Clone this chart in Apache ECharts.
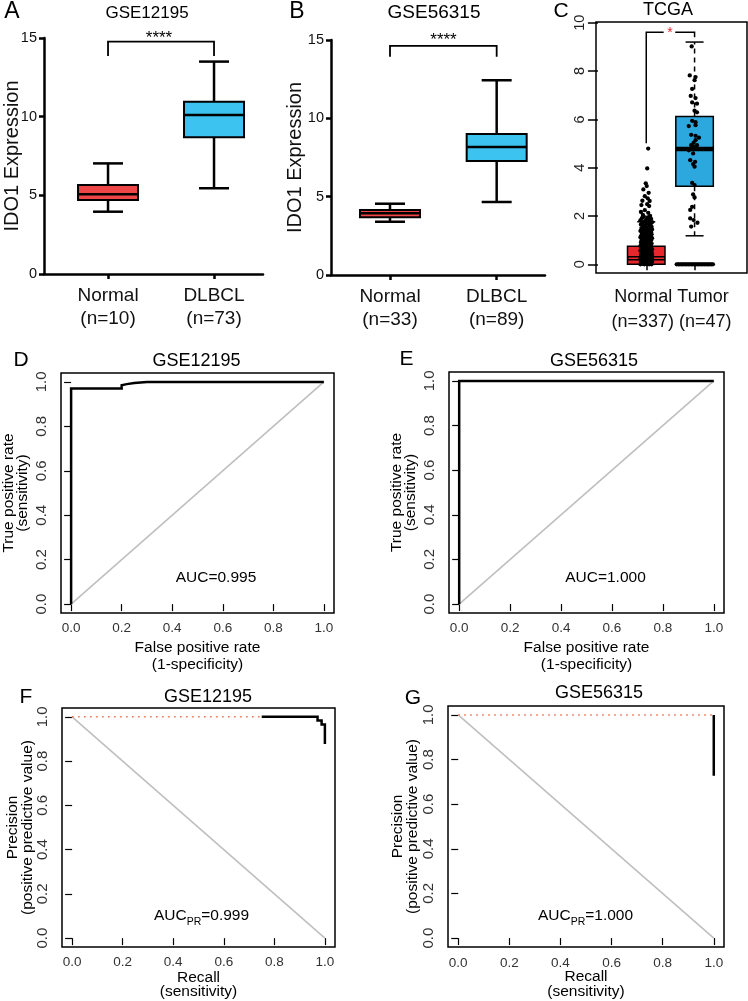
<!DOCTYPE html>
<html>
<head>
<meta charset="utf-8">
<script src="https://cdn.jsdelivr.net/npm/echarts@6/dist/echarts.min.js"></script>
<style>
html,body{margin:0;padding:0;background:#fff;}
#chart{width:748px;height:1001px;}
</style>
</head>
<body>
<div id="chart"></div>
<script>
// ---------------- DATA ----------------
// Panel A (GSE12195) box summaries: [lowWhisker, Q1, median, Q3, highWhisker]
const catsA = ['Normal', 'DLBCL'];
const countsA = [10, 73];
const boxA_normal = [3.96, 4.70, 5.07, 5.66, 7.03];
const boxA_dlbcl = [5.45, 8.69, 10.10, 10.95, 13.50];
const sigA = [13.86, 14.77]; // bracket drop level, bracket top
// Panel B (GSE56315)
const catsB = ['Normal', 'DLBCL'];
const countsB = [33, 89];
const boxB_normal = [3.40, 3.68, 3.94, 4.15, 4.55];
const boxB_dlbcl = [4.66, 7.27, 8.17, 9.00, 12.43];
const sigB = [13.93, 14.63];
const yTicksAB = [0, 5, 10, 15];
// Panel C (TCGA)
const catsC = ['Normal', 'Tumor'];
const countsC = [337, 47];
const boxC_normal = [0.00, 0.00, 0.25, 0.75, 1.76];
const boxC_tumor = [1.18, 3.23, 4.77, 6.12, 9.20];
const yTicksC = [0, 2, 4, 6, 8, 10];
// jittered points: [x offset from category, expression]
const ptsC_normal = [
 [0.04,4.79],[0.02,3.97],[-0.01,3.35],[0.01,3.24],[-0.06,3.10],[0.05,2.96],[-0.03,2.82],[0.03,2.73],[-0.08,2.63],[0.07,2.62],
 [0.02,2.49],[-0.10,2.45],[0.06,2.41],[-0.03,2.24],[-0.11,2.17],[0.04,2.13],[-0.07,2.04],[0.08,2.00],
 [-0.05,1.97],[0.03,1.94],[-0.09,1.91],[0.10,1.88],[0.00,1.85],[-0.12,1.82],[0.06,1.80],[-0.04,1.77],[0.12,1.74],[-0.08,1.72],
 [0.02,1.70],[0.09,1.67],[-0.11,1.65],[-0.02,1.62],[0.07,1.60],[-0.06,1.58],[0.11,1.55],[0.01,1.53],[-0.10,1.50],[0.05,1.48],
 [-0.03,1.46],[0.12,1.44],[-0.07,1.42],[0.03,1.40],[-0.12,1.38],[0.08,1.36],[-0.01,1.34],[0.10,1.32],[-0.09,1.30],[0.04,1.28],
 [-0.05,1.26],[0.11,1.24],[0.00,1.22],[-0.10,1.20],[0.06,1.18],[-0.04,1.16],[0.09,1.14],[-0.12,1.12],[0.02,1.10],[0.12,1.08],
 [-0.07,1.06],[0.05,1.04],[-0.02,1.02],[0.10,1.00],[-0.10,0.98],[0.03,0.96],[-0.05,0.94],[0.08,0.92],[-0.11,0.90],[0.01,0.88],
 [0.11,0.86],[-0.08,0.84],[0.04,0.82],[-0.03,0.80],[0.09,0.78],[-0.12,0.76],
 [0.02,0.74],[-0.06,0.72],[0.10,0.70],[-0.10,0.68],[0.05,0.66],[-0.02,0.64],[0.12,0.62],[-0.08,0.60],[0.03,0.58],[-0.12,0.56],
 [0.08,0.54],[-0.04,0.52],[0.11,0.50],[0.00,0.48],[-0.09,0.46],[0.06,0.44],[-0.05,0.42],[0.12,0.40],[-0.11,0.38],[0.03,0.36],
 [-0.01,0.34],[0.09,0.32],[-0.07,0.30],[0.05,0.28],[-0.12,0.26],[0.10,0.24],[-0.03,0.22],[0.01,0.20],[-0.09,0.18],[0.07,0.16],
 [-0.05,0.14],[0.12,0.12],[-0.11,0.10],[0.04,0.08],[-0.02,0.06],[0.09,0.04],[-0.07,0.02],[0.02,0.01],[-0.12,0.00],[0.11,0.00],
 [-0.04,0.00],[0.06,0.00],[0.00,0.03],[-0.09,0.05],[0.08,0.09],[-0.06,0.11],[0.04,0.15],[-0.10,0.21],[0.12,0.27],[0.00,0.31]
];
const ptsC_tumor = [
 [-0.06,9.02],[-0.10,7.82],[0.02,7.75],[0.00,7.62],[-0.05,7.26],[-0.08,6.97],[0.02,6.88],[-0.05,6.70],[0.05,6.65],[0.00,6.36],
 [0.05,6.29],[-0.05,5.94],[0.02,5.88],[-0.12,5.72],[0.02,5.76],[0.02,5.32],[0.09,5.24],[-0.02,5.03],[-0.07,5.36],[0.02,5.14],
 [-0.07,4.93],[-0.02,4.86],[0.05,4.93],[-0.12,4.72],[-0.03,4.59],[-0.09,4.31],[0.01,4.24],[-0.03,4.15],[0.00,4.04],[-0.05,3.37],
 [0.00,3.28],[-0.03,2.89],[0.00,2.77],[-0.05,2.38],[-0.09,2.25],[-0.09,1.90],[-0.02,1.83],[0.06,1.72],[-0.07,1.56],
 [-0.37,0],[-0.34,0],[-0.31,0],[-0.28,0],[-0.25,0],[-0.22,0],[-0.19,0],[-0.16,0],[-0.13,0],[-0.10,0],[-0.07,0],[-0.04,0],
 [-0.01,0],[0.02,0],[0.05,0],[0.08,0],[0.11,0],[0.14,0],[0.17,0],[0.20,0],[0.23,0],[0.26,0],[0.29,0],[0.32,0],[0.35,0],[0.38,0]
];
const sigC_left = [[1, 5.01], [1, 9.61], [1.36, 9.61]];
const sigC_right = [[1.60, 9.61], [2, 9.61], [2, 9.40]];
// ROC / PR curves: [x, y]
const rocTicks = [0, 0.2, 0.4, 0.6, 0.8, 1.0];
const rocD = [[0,0],[0,0.97],[0.2,0.97],[0.2,0.985],[0.22,0.99],[0.25,0.995],[0.3,1.0],[1,1]];
const rocE = [[0,0],[0,1],[1,1]];
const chanceROC = [[0,0],[1,1]];
const prF = [[0.75,1],[0.971,1],[0.971,0.983],[0.987,0.983],[0.987,0.965],[1,0.965],[1,0.877]];
const prG = [[1,1],[1,0.727]];
const chancePR = [[0,1],[1,0]];
const baseF = [[0,1],[0.75,1]];
const baseG = [[0,1],[1,1]];
const aucD = 'AUC=0.995', aucE = 'AUC=1.000', aucF = '0.999', aucG = '1.000';

// ---------------- STYLE / LAYOUT ----------------
const FONT = '"Liberation Sans", Arial, Helvetica, sans-serif';
const RED = '#EE4646', BLUE = '#3DC3EF', RED_C = '#E8262C', BLUE_C = '#2CA8DF';

const grids = [
  {left:44, top:38, width:219, height:236},   // A
  {left:331, top:40, width:214, height:235},  // B
  {left:596, top:22, width:151, height:251},  // C
  {left:61, top:373, width:273, height:240},  // D
  {left:449, top:372, width:275, height:241}, // E
  {left:62, top:708, width:273, height:239},  // F
  {left:448, top:706, width:276, height:241}  // G
].map((g, i) => Object.assign({
  show: i >= 2, borderColor:'#000', borderWidth:1.5, backgroundColor:'transparent',
  containLabel:false, outerBoundsMode:'none'
}, g));

function catLabel(cats, counts) {
  return v => { const i = Math.round(v) - 1; return cats[i] + '\n(n=' + counts[i] + ')'; };
}

function xAxisAB(gi, min, max, cats, counts) {
  return {
    gridIndex:gi, type:'value', min:min, max:max,
    axisLine:{show:true, onZero:false, lineStyle:{color:'#000', width:2.5}},
    axisTick:{show:true, customValues:[1,2], length:5, lineStyle:{color:'#000', width:2.5}},
    axisLabel:{show:true, customValues:[1,2], formatter:catLabel(cats, counts), fontSize:19, lineHeight:23,
      margin:10, color:'#111', fontFamily:FONT},
    splitLine:{show:false}
  };
}
function yAxisAB(gi, gap) {
  return {
    gridIndex:gi, type:'value', min:0, max:15, interval:5,
    axisLine:{show:true, onZero:false, lineStyle:{color:'#000', width:2.5}},
    axisTick:{show:true, length:5, lineStyle:{color:'#000', width:2.5}},
    axisLabel:{show:true, fontSize:14.5, color:'#111', fontFamily:FONT, margin:7},
    splitLine:{show:false},
    name:'IDO1 Expression', nameLocation:'middle', nameGap:gap, nameRotate:90, nameMoveOverlap:false,
    nameTextStyle:{fontSize:20, color:'#111', fontFamily:FONT}
  };
}
function framedAxis(gi, isY, o) {
  return {
    gridIndex:gi, type:'value', min:-0.04, max:1.04,
    axisLine:{show:false},
    axisTick:{show:true, customValues:rocTicks, length:7, lineStyle:{color:'#000', width:1.2}},
    axisLabel:{show:true, customValues:rocTicks, formatter:v => v.toFixed(1), fontSize:isY ? 15 : 13.5, color:'#333',
      fontFamily:FONT, margin:o.margin, rotate:isY ? 90 : 0},
    splitLine:{show:false},
    name:o.name, nameLocation:'middle', nameGap:o.gap, nameRotate:isY ? 90 : 0, nameMoveOverlap:false,
    nameTextStyle:{fontSize:15.5, lineHeight:o.lh, color:'#000', fontFamily:FONT}
  };
}

function boxSeries(gi, rows, opt) {
  return {
    type:'custom', xAxisIndex:gi, yAxisIndex:gi, z:opt.z || 2, silent:true, clip:false,
    data: rows.map((r, i) => [i + 1].concat(r)),
    renderItem: function (params, api) {
      const x = api.value(0);
      const v = [1,2,3,4,5].map(k => api.value(k));
      const P = val => api.coord([x, val]);
      const cx = P(v[2])[0];
      const y = v.map(val => P(val)[1]);
      const bw = opt.boxW / 2, cw = opt.capW / 2;
      const ws = {stroke:'#000', lineWidth:opt.whiskerW, lineDash:opt.dash || null, fill:null};
      const cs = {stroke:'#000', lineWidth:opt.capW2, fill:null};
      const ch = [
        {type:'line', shape:{x1:cx, y1:y[3], x2:cx, y2:y[4]}, style:ws},
        {type:'line', shape:{x1:cx, y1:y[1], x2:cx, y2:y[0]}, style:ws},
        {type:'line', shape:{x1:cx - cw, y1:y[4], x2:cx + cw, y2:y[4]}, style:cs},
        {type:'line', shape:{x1:cx - cw, y1:y[0], x2:cx + cw, y2:y[0]}, style:cs},
        {type:'rect', shape:{x:cx - bw, y:y[3], width:2 * bw, height:y[1] - y[3]},
          style:{fill:opt.colors[params.dataIndex], stroke:'#000', lineWidth:opt.boxLW}},
        {type:'line', shape:{x1:cx - bw, y1:y[2], x2:cx + bw, y2:y[2]}, style:{stroke:'#000', lineWidth:opt.medLW}}
      ];
      if (opt.medInner && opt.medInner[params.dataIndex]) {
        ch.push({type:'line', shape:{x1:cx - bw + 1, y1:y[2], x2:cx + bw - 1, y2:y[2]},
          style:{stroke:opt.medInner[params.dataIndex], lineWidth:1.6}});
      }
      return {type:'group', children:ch};
    }
  };
}
function lineS(gi, data, color, width, type, z) {
  return {type:'line', xAxisIndex:gi, yAxisIndex:gi, data:data, symbol:'none', silent:true,
    lineStyle:{color:color, width:width, type:type || 'solid', cap:'butt', join:'miter'}, z:z || 3,
    connectNulls:false, animation:false};
}
function scatterS(gi, pts, base) {
  return {type:'scatter', xAxisIndex:gi, yAxisIndex:gi, silent:true, symbolSize:4.3, z:4,
    itemStyle:{color:'#000', opacity:1}, data:pts.map(p => [base + p[0], p[1]])};
}
function txt(x, y, text, size, extra) {
  return Object.assign({type:'text', x:x, y:y, silent:true, z:100,
    style:Object.assign({text:text, fontSize:size, fontFamily:FONT, fill:'#000',
      align:'center', verticalAlign:'middle', textAlign:'center', textVerticalAlign:'middle'}, (extra || {}))});
}
function aucPR(x, y, val) {
  return {type:'text', x:x, y:y, silent:true, z:100,
    style:{text:'{a|AUC}{s|PR}{a|=' + val + '}', fontFamily:FONT, fill:'#000',
      align:'center', verticalAlign:'middle', textAlign:'center', textVerticalAlign:'middle',
      rich:{a:{fontSize:15.5, fontFamily:FONT, fill:'#000', verticalAlign:'bottom', lineHeight:18},
            s:{fontSize:10.5, fontFamily:FONT, fill:'#000', verticalAlign:'bottom', lineHeight:13, padding:[0,0,-4,0]}}}};
}

const chart = echarts.init(document.getElementById('chart'), null, {renderer:'canvas', width:748, height:1001});
const option = {
  animation:false,
  backgroundColor:'#fff',
  textStyle:{fontFamily:FONT},
  grid:grids,
  xAxis:[
    xAxisAB(0, 0.396, 2.462, catsA, countsA),
    xAxisAB(1, 0.447, 2.453, catsB, countsB),
    {gridIndex:2, type:'value', min:-0.04, max:3.085, axisLine:{show:false},
      axisTick:{show:true, customValues:[1,2], length:6, lineStyle:{color:'#000', width:1.5}},
      axisLabel:{show:false}, splitLine:{show:false},
      name:catsC[0] + ' ' + catsC[1] + '\n(n=' + countsC[0] + ') (n=' + countsC[1] + ')',
      nameLocation:'middle', nameGap:11.5, nameMoveOverlap:false,
      nameTextStyle:{fontSize:18, lineHeight:25, color:'#111', fontFamily:FONT}},
    framedAxis(3, false, {name:'False positive rate\n(1-specificity)', gap:26, lh:17, margin:8}),
    framedAxis(4, false, {name:'False positive rate\n(1-specificity)', gap:26, lh:17, margin:8}),
    framedAxis(5, false, {name:'Recall\n(sensitivity)', gap:23, lh:14.5, margin:8.5}),
    framedAxis(6, false, {name:'Recall\n(sensitivity)', gap:22.5, lh:14.5, margin:9.5})
  ],
  yAxis:[
    yAxisAB(0, 22),
    yAxisAB(1, 26),
    {gridIndex:2, type:'value', min:-0.36, max:10.03, axisLine:{show:false},
      axisTick:{show:true, customValues:yTicksC, length:10, lineStyle:{color:'#000', width:1.5}},
      axisLabel:{show:true, customValues:yTicksC, rotate:90, fontSize:14.5, color:'#222', fontFamily:FONT, margin:9},
      splitLine:{show:false}},
    framedAxis(3, true, {name:'True positive rate\n(sensitivity)', gap:31.5, lh:14, margin:11.5}),
    framedAxis(4, true, {name:'True positive rate\n(sensitivity)', gap:31, lh:14.4, margin:11.5}),
    framedAxis(5, true, {name:'Precision\n(positive predictive value)', gap:26.5, lh:15, margin:11.5}),
    framedAxis(6, true, {name:'Precision\n(positive predictive value)', gap:28.5, lh:14.3, margin:11.5})
  ],
  series:[
    boxSeries(0, [boxA_normal, boxA_dlbcl], {boxW:60, capW:30, whiskerW:2.5, capW2:2.5, boxLW:2, medLW:2.5, colors:[RED, BLUE]}),
    lineS(0, [[1, sigA[0]], [1, sigA[1]], [2, sigA[1]], [2, sigA[0]]], '#000', 1.8),
    boxSeries(1, [boxB_normal, boxB_dlbcl], {boxW:60, capW:30, whiskerW:2.5, capW2:2.5, boxLW:2, medLW:2.5, colors:[RED, BLUE]}),
    lineS(1, [[1, sigB[0]], [1, sigB[1]], [2, sigB[1]], [2, sigB[0]]], '#000', 1.8),
    boxSeries(2, [boxC_normal, boxC_tumor], {boxW:37.5, capW:18, whiskerW:1.5, capW2:1.5, dash:[5,4], boxLW:1.5, medLW:4.5,
      colors:[RED_C, BLUE_C], medInner:[RED_C, null]}),
    scatterS(2, ptsC_normal, 1),
    scatterS(2, ptsC_tumor, 2),
    lineS(2, sigC_left, '#000', 1.5),
    lineS(2, sigC_right, '#000', 1.5),
    lineS(3, chanceROC, '#BEBEBE', 1.5, 'solid', 2),
    lineS(3, rocD, '#000', 2.5),
    lineS(4, chanceROC, '#BEBEBE', 1.5, 'solid', 2),
    lineS(4, rocE, '#000', 2.5),
    lineS(5, chancePR, '#BEBEBE', 1.5, 'solid', 2),
    lineS(5, baseF, '#F26A45', 1.5, [1.5, 4.5]),
    lineS(5, prF, '#000', 2.5),
    lineS(6, chancePR, '#BEBEBE', 1.5, 'solid', 2),
    lineS(6, baseG, '#F26A45', 1.5, [1.5, 4.5]),
    lineS(6, prG, '#000', 2.5)
  ],
  graphic:[
    txt(12, 12, 'A', 23), txt(147, 13, 'GSE12195', 17), txt(159, 38, '****', 17),
    txt(297, 12, 'B', 23), txt(434, 13, 'GSE56315', 19), txt(443.5, 40, '****', 17),
    txt(561, 11, 'C', 21), txt(668, 10, 'TCGA', 18), txt(670, 33.5, '*', 14, {fill:'#E8262C'}),
    txt(21, 360, 'D', 21), txt(196.5, 361.5, 'GSE12195', 18), txt(216, 578, aucD, 15.5),
    txt(406.5, 359, 'E', 21), txt(594, 361, 'GSE56315', 18), txt(605.5, 578, aucE, 15.5),
    txt(26, 697, 'F', 21), txt(208, 697, 'GSE12195', 18), aucPR(201.5, 915, aucF),
    txt(413, 698, 'G', 21), txt(599, 693, 'GSE56315', 18), aucPR(585.5, 915, aucG)
  ]
};
chart.setOption(option);
</script>
</body>
</html>
